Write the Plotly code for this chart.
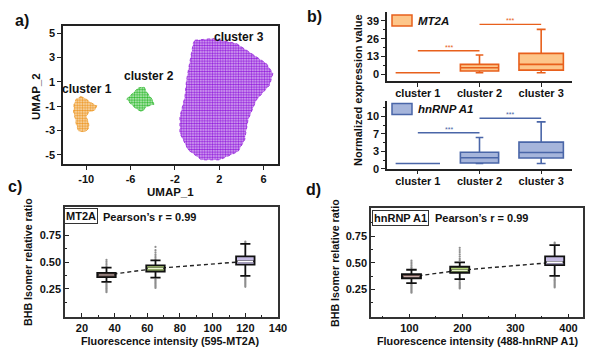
import plotly.graph_objects as go

W, H = 596, 355
FONT = "Liberation Sans, Arial, sans-serif"

def px(x):
    return x / W

def py(y):
    return 1 - y / H

# ---------------- panel a : UMAP cluster outlines ----------------
cluster_names = ["cluster 1", "cluster 2", "cluster 3"]
cluster_colors = ["#EE9A2A", "#33BB33", "#9422DC"]
cluster_tints = ["rgba(238,154,42,0.30)", "rgba(51,187,51,0.25)", "rgba(148,34,220,0.30)"]
cluster1_x = [-10.5, -10.1, -9.6, -9.05, -9.2, -9.8, -10.0, -9.8, -9.75, -10.1, -10.7, -10.9, -11.0, -11.15, -11.1, -10.9]
cluster1_y = [-0.2, -0.35, -0.7, -0.95, -1.3, -1.5, -1.9, -2.3, -2.8, -3.1, -3.05, -2.5, -2.0, -1.5, -0.8, -0.4]
cluster2_x = [-5.3, -4.8, -4.5, -4.0, -3.9, -4.5, -5.0, -5.5, -6.0, -6.35, -6.0, -5.6]
cluster2_y = [0.5, 0.6, 0.1, -0.5, -0.85, -1.0, -1.45, -1.2, -0.8, -0.4, -0.1, 0.2]
cluster3_x = [-0.2, 1.44, 3.55, 6.24, 6.84, 6.54, 5.34, 4.59, 4.29, 3.69, 2.04, 0.40, -0.80, -1.55, -1.55, -1.10, -0.95, -0.65, -0.35]
cluster3_y = [4.43, 4.57, 4.16, 2.52, 1.70, 0.74, -0.49, -2.13, -3.77, -4.73, -5.41, -5.41, -4.59, -3.22, -1.86, -0.22, 1.15, 2.79, 4.16]
cluster_label_x = [-9.9, -4.34, 3.78]
cluster_label_y = [0.39, 1.48, 4.70]
umap_xticks = [-10, -6, -2, 2, 6]
umap_yticks = [5, 3, 1, -1, -3, -5]

# ---------------- panel b : box statistics ----------------
b_categories = ["cluster 1", "cluster 2", "cluster 3"]
b_widths = [0.72, 0.62, 0.72]
mt2a_low = [1, 1, 1]
mt2a_q1 = [1, 2.2, 2.9]
mt2a_med = [1, 4.6, 7.1]
mt2a_q3 = [1, 7.1, 15.2]
mt2a_high = [1, 14.0, 32.8]
mt2a_sig_y = [17.1, 36.5]
hn_low = [1, 1, 1]
hn_q1 = [1, 1.1, 2.05]
hn_med = [1, 2.1, 3.1]
hn_q3 = [1, 3.15, 5.1]
hn_high = [1, 6.0, 9.0]
hn_sig_y = [6.9, 9.7]
sig_pairs = [(0, 1), (1, 2)]
mt2a_yticks = [0, 13, 26, 39]
mt2a_yticklabels = ["0", "13", "26", "39"]
hn_yticks = [0, 10 / 3, 20 / 3, 10]
hn_yticklabels = ["0", "3", "7", "10"]

# ---------------- panel c : MT2A ----------------
c_x = [35, 65, 120]
c_low = [0.316, 0.356, 0.372]
c_q1 = [0.36, 0.412, 0.475]
c_med = [0.38, 0.44, 0.505]
c_q3 = [0.40, 0.468, 0.552]
c_high = [0.447, 0.515, 0.668]
c_dots = [
    [0.52, 0.505, 0.49, 0.475, 0.46, 0.30, 0.29, 0.28, 0.27, 0.26, 0.25, 0.24, 0.23, 0.22],
    [0.64, 0.61, 0.59, 0.57, 0.555, 0.54, 0.525, 0.34, 0.33, 0.32, 0.31, 0.30, 0.29, 0.28, 0.27, 0.26],
    [0.69, 0.68, 0.36, 0.35, 0.34, 0.33, 0.32, 0.31, 0.30, 0.29, 0.28, 0.27],
]
c_xticks = [20, 40, 60, 80, 100, 120, 140]

# ---------------- panel d : hnRNP A1 ----------------
d_x = [104, 195, 374]
d_low = [0.31, 0.348, 0.378]
d_q1 = [0.354, 0.407, 0.478]
d_med = [0.37, 0.43, 0.505]
d_q3 = [0.394, 0.463, 0.56]
d_high = [0.435, 0.504, 0.665]
d_dots = [
    [0.52, 0.505, 0.49, 0.475, 0.46, 0.45, 0.30, 0.29, 0.28, 0.27, 0.26, 0.25, 0.24, 0.23, 0.22],
    [0.64, 0.62, 0.60, 0.58, 0.56, 0.54, 0.525, 0.335, 0.32, 0.31, 0.30, 0.29, 0.28, 0.27, 0.26],
    [0.69, 0.68, 0.365, 0.35, 0.34, 0.33, 0.32, 0.31, 0.30, 0.29, 0.28, 0.27],
]
d_xticks = [100, 200, 300, 400]

ratio_ticks = [0.25, 0.5, 0.75]
ratio_ticklabels = ["0.25", "0.50", "0.75"]
ratio_minor = [0.125, 0.375, 0.625, 0.875]
box_fills = ["#86645F", "#B4D67A", "#C6BCE4"]
median_colors = ["#C9ACA8", "#EAF5CF", "#FFFFFF"]

fig = go.Figure()

# panel a clusters
for xs, ys, col, tint in zip([cluster1_x, cluster2_x, cluster3_x], [cluster1_y, cluster2_y, cluster3_y],
                             cluster_colors, cluster_tints):
    fig.add_trace(go.Scatter(
        x=xs + [xs[0]], y=ys + [ys[0]], mode="lines", fill="toself",
        line=dict(color=col, width=0.8, dash="dot"), fillcolor=tint,
        fillpattern=dict(shape=".", fgcolor=col, bgcolor=tint, size=2.6, solidity=0.55),
        xaxis="x", yaxis="y", showlegend=False, hoverinfo="skip"))
for name, lx, ly in zip(cluster_names, cluster_label_x, cluster_label_y):
    fig.add_annotation(x=lx, y=ly, xref="x", yref="y", text="<b>%s</b>" % name, showarrow=False,
                       font=dict(family=FONT, size=12, color="#111"))

# panel b boxes
def add_b_boxes(low, q1, med, q3, high, sig_y, fill, line, xa, ya):
    for i in range(len(b_categories)):
        fig.add_trace(go.Box(
            x=[i], lowerfence=[low[i]], q1=[q1[i]], median=[med[i]], q3=[q3[i]], upperfence=[high[i]],
            orientation="v", width=b_widths[i], fillcolor=fill, line=dict(color=line, width=1.6),
            whiskerwidth=0.2, boxpoints=False, xaxis=xa, yaxis=ya, showlegend=False, hoverinfo="skip"))
    for (a, b), yv in zip(sig_pairs, sig_y):
        fig.add_trace(go.Scatter(x=[a, b], y=[yv, yv], mode="lines", line=dict(color=line, width=1.4),
                                 xaxis=xa, yaxis=ya, showlegend=False, hoverinfo="skip"))
        fig.add_annotation(x=(a + b) / 2, y=yv, xref=xa, yref=ya, text="***", showarrow=False,
                           yanchor="bottom", yshift=-2, font=dict(family=FONT, size=7, color=line))

add_b_boxes(mt2a_low, mt2a_q1, mt2a_med, mt2a_q3, mt2a_high, mt2a_sig_y, "#FDC68A", "#E8601C", "x2", "y2")
add_b_boxes(hn_low, hn_q1, hn_med, hn_q3, hn_high, hn_sig_y, "#A6B5DB", "#4A66A8", "x3", "y3")

# panels c and d
def add_ratio_panel(xs, low, q1, med, q3, high, dots, bw, xa, ya, oxa, oya):
    for xv, dl in zip(xs, dots):
        fig.add_trace(go.Scatter(x=[xv] * len(dl), y=dl, mode="markers",
                                 marker=dict(color="#8E8E8E", size=2.2), xaxis=xa, yaxis=ya,
                                 showlegend=False, hoverinfo="skip"))
    fig.add_trace(go.Scatter(x=xs, y=med, mode="lines", line=dict(color="#222", width=1.4, dash="4px,3px"),
                             xaxis=xa, yaxis=ya, showlegend=False, hoverinfo="skip"))
    for i in range(len(xs)):
        fig.add_trace(go.Box(
            x=[xs[i]], lowerfence=[low[i]], q1=[q1[i]], median=[med[i]], q3=[q3[i]], upperfence=[high[i]],
            orientation="v", width=bw, fillcolor=box_fills[i], line=dict(color="#111", width=1.8),
            whiskerwidth=0.55, boxpoints=False, xaxis=oxa, yaxis=oya, showlegend=False, hoverinfo="skip"))
        fig.add_trace(go.Scatter(x=[xs[i] - bw * 0.42, xs[i] + bw * 0.42], y=[med[i], med[i]], mode="lines",
                                 line=dict(color=median_colors[i], width=1.3), xaxis=oxa, yaxis=oya,
                                 showlegend=False, hoverinfo="skip"))

add_ratio_panel(c_x, c_low, c_q1, c_med, c_q3, c_high, c_dots, 11.3, "x4", "y4", "x6", "y6")
add_ratio_panel(d_x, d_low, d_q1, d_med, d_q3, d_high, d_dots, 36, "x5", "y5", "x7", "y7")

tickfont = dict(family=FONT, size=11, color="#111")
LC = "#222"

def bold(labels):
    return ["<b>%s</b>" % l for l in labels]

c_range = [9.6, 140]
d_range = [27.7, 428]
r_range = [-0.01, 1.01]

common = dict(showgrid=False, zeroline=False, automargin=False, tickfont=tickfont, tickcolor=LC)

fig.update_layout(
    template="none",
    width=W, height=H, margin=dict(l=0, r=0, t=0, b=0, autoexpand=False),
    paper_bgcolor="white", plot_bgcolor="white", showlegend=False,
    font=dict(family=FONT),
    # panel a
    xaxis=dict(domain=[px(63), px(278)], anchor="y", range=[-12.1, 7.3], tickvals=umap_xticks,
               ticktext=bold([str(v) for v in umap_xticks]),
               showline=True, mirror=True, linecolor=LC, linewidth=1.5, ticks="outside", ticklen=4,
               tickwidth=1.2, **common),
    yaxis=dict(domain=[py(164), py(26)], anchor="x", range=[-5.75, 5.6], tickvals=umap_yticks,
               ticktext=bold([str(v) for v in umap_yticks]),
               showline=True, mirror=True, linecolor=LC, linewidth=1.5, ticks="outside", ticklen=4,
               tickwidth=1.2, **common),
    # panel b top
    xaxis2=dict(domain=[px(387), px(572)], anchor="y2", range=[-0.5, 2.5], tickvals=[0, 1, 2],
                ticktext=bold(b_categories), showline=True, linecolor=LC, linewidth=1.5, ticks="outside",
                ticklen=4, ticklabelstandoff=-3, **common),
    yaxis2=dict(domain=[py(81), py(12)], anchor="x2", range=[-5.1, 45.6], tickvals=mt2a_yticks,
                ticktext=bold(mt2a_yticklabels),
                showline=True, linecolor=LC, linewidth=1.5, ticks="outside", ticklen=4,
                minor=dict(tickvals=[6.5, 19.5, 32.5], ticks="outside", ticklen=2, tickcolor=LC),
                **common),
    # panel b bottom
    xaxis3=dict(domain=[px(387), px(572)], anchor="y3", range=[-0.5, 2.5], tickvals=[0, 1, 2],
                ticktext=bold(b_categories), showline=True, linecolor=LC, linewidth=1.5, ticks="outside",
                ticklen=4, ticklabelstandoff=-3, **common),
    yaxis3=dict(domain=[py(168.7), py(101)], anchor="x3", range=[0, 13], tickvals=hn_yticks,
                ticktext=bold(hn_yticklabels), showline=True, linecolor=LC, linewidth=1.5, ticks="outside",
                ticklen=4,
                minor=dict(tickvals=[5 / 3, 5, 25 / 3, 35 / 3], ticks="outside", ticklen=2, tickcolor=LC),
                **common),
    # panel c
    xaxis4=dict(domain=[px(65), px(278)], anchor="y4", range=c_range, tickvals=c_xticks,
                ticktext=bold([str(v) for v in c_xticks]),
                showline=True, mirror=True, linecolor="#333", linewidth=1.5, ticks="inside", ticklen=4,
                minor=dict(dtick=10, tick0=10, ticks="inside", ticklen=2, tickcolor=LC), **common),
    yaxis4=dict(domain=[py(317), py(207)], anchor="x4", range=r_range, tickvals=ratio_ticks,
                ticktext=bold(ratio_ticklabels), showline=True, mirror=True, linecolor="#333", linewidth=1.5,
                ticks="inside", ticklen=4,
                minor=dict(tickvals=ratio_minor, ticks="inside", ticklen=2, tickcolor=LC), **common),
    # panel d
    xaxis5=dict(domain=[px(371), px(583.3)], anchor="y5", range=d_range, tickvals=d_xticks,
                ticktext=bold([str(v) for v in d_xticks]),
                showline=True, mirror=True, linecolor="#333", linewidth=1.5, ticks="inside", ticklen=4,
                minor=dict(dtick=50, tick0=0, ticks="inside", ticklen=2, tickcolor=LC), **common),
    yaxis5=dict(domain=[py(317.3), py(208.3)], anchor="x5", range=r_range, tickvals=ratio_ticks,
                ticktext=bold(ratio_ticklabels), showline=True, mirror=True, linecolor="#333", linewidth=1.5,
                ticks="inside", ticklen=4,
                minor=dict(tickvals=ratio_minor, ticks="inside", ticklen=2, tickcolor=LC), **common),
    # overlays for boxes (drawn above the dashed line and dots)
    xaxis6=dict(overlaying="x4", anchor="y6", range=c_range, visible=False),
    yaxis6=dict(overlaying="y4", anchor="x6", range=r_range, visible=False),
    xaxis7=dict(overlaying="x5", anchor="y7", range=d_range, visible=False),
    yaxis7=dict(overlaying="y5", anchor="x7", range=r_range, visible=False),
)

def ann(text, x, y, size, xanchor="center", textangle=0, **kw):
    fig.add_annotation(x=px(x), y=py(y), xref="paper", yref="paper", text=text, showarrow=False,
                       xanchor=xanchor, yanchor="middle", textangle=textangle,
                       font=dict(family=FONT, size=size, color="#111"), **kw)

# panel labels
ann("<b>a)</b>", 22, 20, 16)
ann("<b>b)</b>", 314, 16, 16)
ann("<b>c)</b>", 15, 186, 16)
ann("<b>d)</b>", 313, 190, 16)

# axis titles
ann("<b>UMAP_2</b>", 36, 97, 11.5, textangle=-90)
ann("<b>UMAP_1</b>", 170, 192, 11.5)
ann("<b>Normalized expression value</b>", 358, 90, 11, textangle=-90)
ann("<b>BHB Isomer relative ratio</b>", 28, 262, 10.7, textangle=-90)
ann("<b>Fluorescence intensity (595-MT2A)</b>", 170, 341, 10.8)
ann("<b>BHB Isomer relative ratio</b>", 335, 263, 10.7, textangle=-90)
ann("<b>Fluorescence intensity (488-hnRNP A1)</b>", 477, 341, 10.8)

# in-panel labels c/d
ann("<b>MT2A</b>", 81, 216, 11, bordercolor="#333", borderwidth=1, borderpad=1, bgcolor="white")
ann("<b>Pearson’s r = 0.99</b>", 101, 216.5, 11, xanchor="left")
ann("<b>hnRNP A1</b>", 400, 218.3, 11, bordercolor="#333", borderwidth=1, borderpad=1, bgcolor="white")
ann("<b>Pearson’s r = 0.99</b>", 433, 218.3, 11, xanchor="left")

# legends of panel b
fig.add_shape(type="rect", xref="paper", yref="paper", x0=px(392), x1=px(412), y0=py(26), y1=py(15),
              fillcolor="#FDC68A", line=dict(color="#E8601C", width=1.5))
ann("<b><i>MT2A</i></b>", 416, 20.5, 11.5, xanchor="left")
fig.add_shape(type="rect", xref="paper", yref="paper", x0=px(392), x1=px(412), y0=py(114.5), y1=py(103.5),
              fillcolor="#A6B5DB", line=dict(color="#4A66A8", width=1.5))
ann("<b><i>hnRNP A1</i></b>", 416, 109, 11.5, xanchor="left")

fig.write_html("out.html", config={"displayModeBar": False},
               post_script="document.body.style.margin='0';document.body.style.padding='0';")
